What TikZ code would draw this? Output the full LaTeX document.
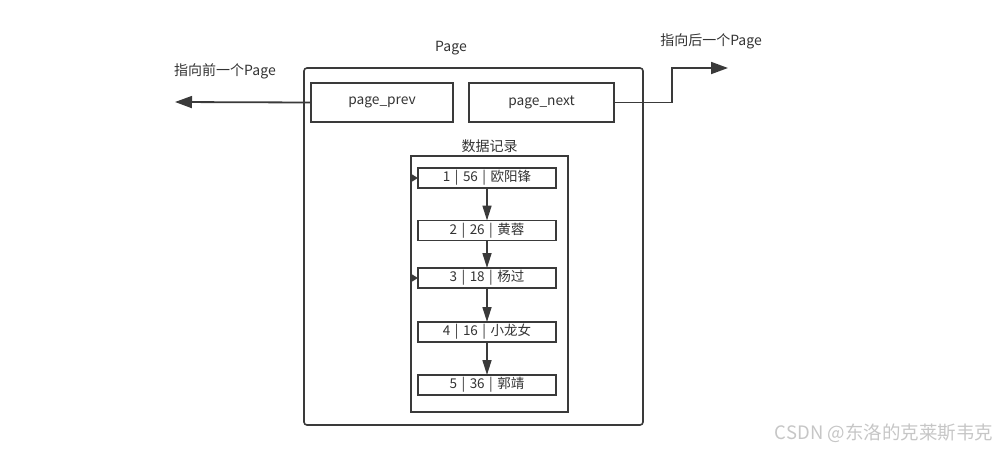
\documentclass[tikz,border=0pt]{standalone}
\usepackage{fontspec}
\setmainfont{Noto Sans CJK SC}
\usetikzlibrary{arrows.meta,positioning}
\definecolor{linegray}{HTML}{3A3A3A}
\definecolor{textgray}{HTML}{333333}
\newcommand{\recbar}{\hspace{4.5pt}|\hspace{4.5pt}}

\begin{document}
\begin{tikzpicture}[
    x=1pt,y=-1pt,
    font=\fontsize{14}{16}\selectfont,
    text=textgray,
    frame/.style={draw=linegray,line width=1.6pt,inner sep=0pt,outer sep=0pt},
    box/.style={frame,minimum width=142pt,minimum height=39pt,
                font=\fontsize{13.75}{16}\selectfont},
    rec/.style={frame,minimum width=138pt,minimum height=20pt,
                font=\fontsize{13.5}{15}\selectfont},
    arr/.style={-{Triangle[length=15pt,width=9pt]},draw=linegray,line width=1.6pt},
    bigarr/.style={-{Triangle[length=17pt,width=12pt]},draw=linegray,line width=1.8pt},
    tip/.style={-{Triangle[length=7pt,width=8pt]},draw=linegray,line width=1.6pt},
    node distance=33pt
  ]
    \useasboundingbox (0,0) rectangle (998,451);
    \node[frame,rounded corners=3pt,minimum width=339pt,minimum height=357pt]
      (page) at (473.5,246.5) {};
    \node (pagelbl) at (451,48) {Page};
    \node[box] (prev) at (382,102.5) {page\_prev};
    \node[box,minimum width=145pt] (next) at (541.5,102.5) {page\_next};
    \coordinate (prevend) at (175,102);
    \coordinate (nextend) at (728,68);
    \node (prevlbl) at (225,71) {指向前一个Page};
    \node (nextlbl) at (711,41) {指向后一个Page};
    \draw[bigarr] (prev.west) -- (prevend);
    \draw[bigarr] (next.east) -- ++(58,0) |- (nextend);
    \node[frame,minimum width=157pt,minimum height=256pt,
          label={[inner sep=3pt]above:数据记录}] (data) at (489.5,284) {};
    \node[rec] (r1) at (487,178) {1\recbar{}56\recbar{}欧阳锋};
    \node[rec] (r2) at (487,230.5) {2\recbar{}26\recbar{}黄蓉};
    \node[rec] (r3) at (487,278) {3\recbar{}18\recbar{}杨过};
    \node[rec] (r4) at (487,332) {4\recbar{}16\recbar{}小龙女};
    \node[rec] (r5) at (487,385) {5\recbar{}36\recbar{}郭靖};
    \draw[arr] (r1) -- (r2);
    \draw[arr] (r2) -- (r3);
    \draw[arr] (r3) -- (r4);
    \draw[arr] (r4) -- (r5);
    \draw[tip] (data.west |- r1) -- (r1.west);
    \draw[tip] (data.west |- r3) -- (r3.west);
    \node[text=gray!45,font=\fontsize{18.5}{20}\selectfont] (mark) at (884,433)
      {CSDN @东洛的克莱斯韦克};
\end{tikzpicture}
\end{document}
